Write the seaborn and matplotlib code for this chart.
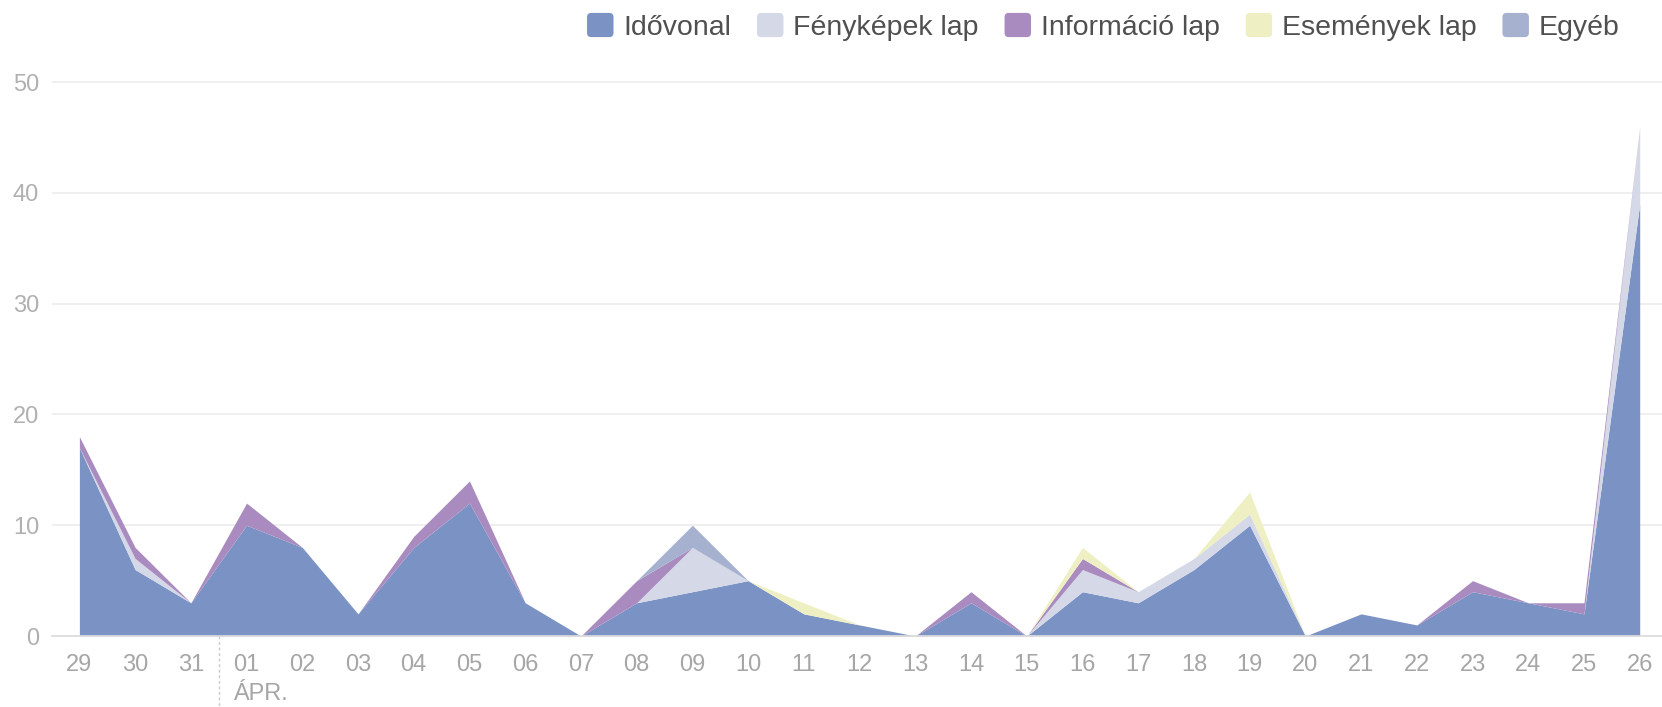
import numpy as np
import pandas as pd
import seaborn as sns
import matplotlib.pyplot as plt
from matplotlib.patches import Patch, FancyBboxPatch
from matplotlib.legend_handler import HandlerPatch

# Page views per tab, 29 March - 26 April
dates = ['29', '30', '31', '01', '02', '03', '04', '05', '06', '07', '08', '09', '10', '11',
         '12', '13', '14', '15', '16', '17', '18', '19', '20', '21', '22', '23', '24', '25', '26']
idovonal = [17, 6, 3, 10, 8, 2, 8, 12, 3, 0, 3, 4, 5, 2, 1, 0, 3, 0, 4, 3, 6, 10, 0, 2, 1, 4, 3, 2, 39]
fenykepek = [0, 1, 0, 0, 0, 0, 0, 0, 0, 0, 0, 4, 0, 0, 0, 0, 0, 0, 2, 1, 1, 1, 0, 0, 0, 0, 0, 0, 7]
informacio = [1, 1, 0, 2, 0, 0, 1, 2, 0, 0, 2, 0, 0, 0, 0, 0, 1, 0, 1, 0, 0, 0, 0, 0, 0, 1, 0, 1, 0]
esemenyek = [0, 0, 0, 0, 0, 0, 0, 0, 0, 0, 0, 0, 0, 1, 0, 0, 0, 0, 1, 0, 0, 2, 0, 0, 0, 0, 0, 0, 0]
egyeb = [0, 0, 0, 0, 0, 0, 0, 0, 0, 0, 0, 2, 0, 0, 0, 0, 0, 0, 0, 0, 0, 0, 0, 0, 0, 0, 0, 0, 0]

series = ['Idővonal', 'Fényképek lap', 'Információ lap', 'Események lap', 'Egyéb']
colors = ['#7b92c5', '#d4d8e7', '#a98bbf', '#eef0c4', '#a5b1cf']

df = pd.DataFrame({'date': dates, 'Idővonal': idovonal, 'Fényképek lap': fenykepek,
                   'Információ lap': informacio, 'Események lap': esemenyek, 'Egyéb': egyeb})

sns.set_theme(style='white')
plt.rcParams['font.family'] = ['Liberation Sans', 'DejaVu Sans']

fig = plt.figure(figsize=(16.62, 7.07), dpi=100)
ax = fig.add_axes([0.031, 0.1004, 0.969, 0.785])

x = np.arange(len(df))
ax.stackplot(x, [df[s] for s in series], colors=colors, linewidth=0)

ax.set_xlim(-0.5, 28.4)
ax.set_ylim(0, 50.1)
ax.set_yticks([0, 10, 20, 30, 40, 50])
ax.yaxis.grid(True, color='#ececec', linewidth=1.2)
ax.set_axisbelow(True)

ax.set_xticks(x)
ax.set_xticklabels(df['date'])
minor = [v for v in np.arange(-0.5, 28, 1.0) if v != 2.5]
ax.set_xticks(minor, minor=True)
ax.tick_params(axis='x', which='major', length=0, pad=13, labelsize=17, colors='#a6a6a6')
ax.tick_params(axis='x', which='minor', length=7, width=1, color='#d0d0d0', direction='out')
ax.tick_params(axis='y', length=0, pad=9, labelsize=17, colors='#b0b0b0')

sns.despine(ax=ax, left=True, top=True, right=True)
ax.spines['bottom'].set_color('#dcdcdc')

# month boundary marker
ax.plot([2.5, 2.5], [0, -0.13], transform=ax.get_xaxis_transform(), clip_on=False,
        color='#c8c8c8', linestyle=(0, (2, 2)), linewidth=1)
ax.text(2.75, -0.105, 'ÁPR.', transform=ax.get_xaxis_transform(), ha='left', va='center',
        fontsize=17, color='#a6a6a6')


def rounded_square(legend, orig_handle, xdescent, ydescent, width, height, fontsize):
    return FancyBboxPatch((-xdescent, -ydescent), width, height,
                          boxstyle='round,pad=0,rounding_size=3')


handles = [Patch(facecolor=c, edgecolor='none') for c in colors]
fig.legend(handles, series, loc='center right', bbox_to_anchor=(0.99, 0.962), ncol=5,
           frameon=False, fontsize=20.5, handlelength=0.93, handleheight=0.93,
           handletextpad=0.35, columnspacing=0.9, labelcolor='#505050',
           handler_map={Patch: HandlerPatch(patch_func=rounded_square)})

plt.savefig('out.png', dpi=100)
